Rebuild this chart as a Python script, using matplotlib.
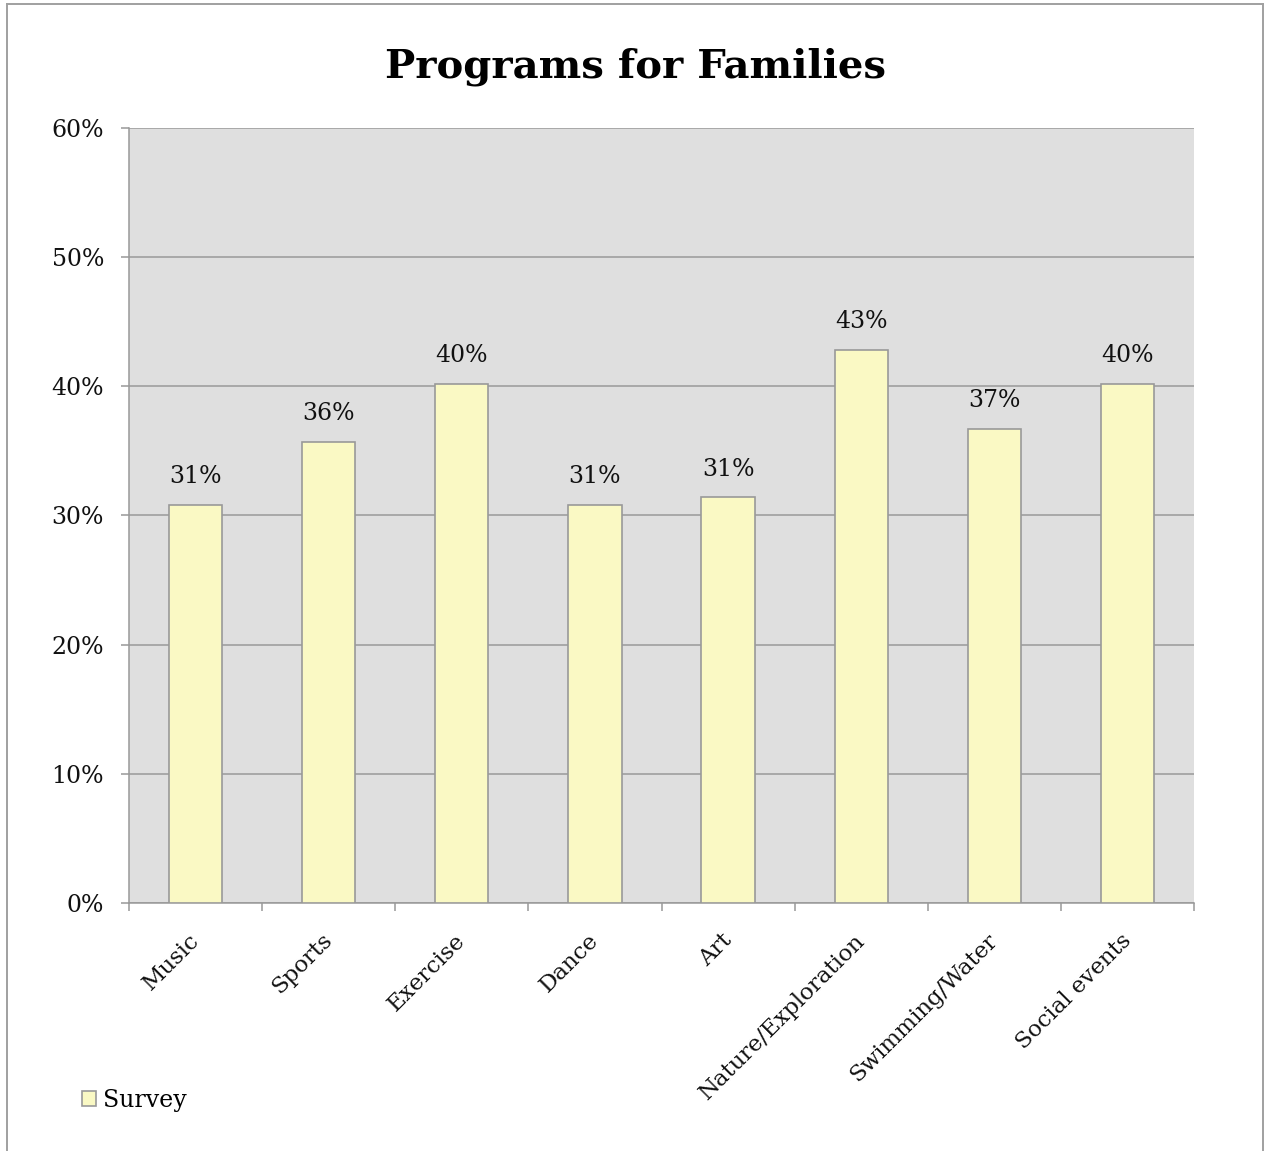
import matplotlib

matplotlib.use("Agg")
import matplotlib.pyplot as plt
import matplotlib.transforms as mtransforms
from matplotlib.lines import Line2D
from matplotlib.ticker import FixedLocator, PercentFormatter

categories = ["Music", "Sports", "Exercise", "Dance", "Art",
              "Nature/Exploration", "Swimming/Water", "Social events"]
survey = [0.308, 0.357, 0.402, 0.308, 0.314, 0.428, 0.367, 0.402]
y_ticks = [0.0, 0.1, 0.2, 0.3, 0.4, 0.5, 0.6]

FONT = "DejaVu Serif"
PLOT_BG = "#DFDFDF"
BAR_FILL = "#FAF9C4"
LINE = "#999999"
INK = "#111111"
FS = 17

plt.rcParams["font.family"] = FONT

fig = plt.figure(figsize=(12.65, 11.51), dpi=100)
ax = fig.add_axes([0.10198, 0.21547, 0.84190, 0.67333])
ax.set_facecolor(PLOT_BG)

x = range(len(categories))
bars = ax.bar(x, survey, width=0.4, color=BAR_FILL, edgecolor=LINE,
              linewidth=1.2, zorder=3, label="Survey")

for rect, val in zip(bars, survey):
    ax.annotate(f"{val:.0%}", (rect.get_x() + rect.get_width() / 2, val),
                xytext=(0, 12), textcoords="offset points", ha="center",
                va="bottom", fontsize=FS, color=INK)

ax.set_xlim(-0.5, len(categories) - 0.5)
ax.set_ylim(0, 0.6)
ax.set_yticks(y_ticks)
ax.yaxis.set_major_formatter(PercentFormatter(1.0, decimals=0))
ax.yaxis.grid(True, color=LINE, linewidth=1.1, zorder=1)
ax.set_axisbelow(True)

ax.set_xticks(list(x))
ax.set_xticklabels(categories, rotation=45, ha="right", fontsize=16.5, color=INK)
ax.xaxis.set_minor_locator(FixedLocator([i - 0.5 for i in range(len(categories) + 1)]))
ax.tick_params(axis="x", which="major", length=0, pad=19)
ax.tick_params(axis="x", which="minor", length=6, width=1.1, color=LINE)
ax.tick_params(axis="y", length=6, width=1.1, color=LINE, pad=12,
               labelsize=FS, labelcolor=INK)

shift = mtransforms.ScaledTranslation(8 / 100, 0, fig.dpi_scale_trans)
for lbl in ax.get_xticklabels():
    lbl.set_transform(lbl.get_transform() + shift)

for side in ("top", "right"):
    ax.spines[side].set_visible(False)
for side in ("left", "bottom"):
    ax.spines[side].set_color(LINE)
    ax.spines[side].set_linewidth(1.1)

fig.text(0.502, 0.942, "Programs for Families", ha="center", va="center",
         fontsize=29, fontweight="bold", color="black")

fig.legend(loc="lower left", bbox_to_anchor=(0.065, 0.034), frameon=False,
           fontsize=FS, handlelength=0.6, handleheight=0.6,
           handletextpad=0.3, borderpad=0, borderaxespad=0)

# outer chart frame (bottom edge runs past the canvas)
fx0, fx1, fy1 = 7 / 1265, 1263 / 1265, 1 - 4 / 1151
for xs, ys in [([fx0, fx0], [-0.01, fy1]), ([fx0, fx1], [fy1, fy1]),
               ([fx1, fx1], [fy1, -0.01])]:
    fig.add_artist(Line2D(xs, ys, transform=fig.transFigure,
                          color="#A0A0A0", linewidth=1.4))

fig.savefig("out.png", dpi=100, facecolor="white")
